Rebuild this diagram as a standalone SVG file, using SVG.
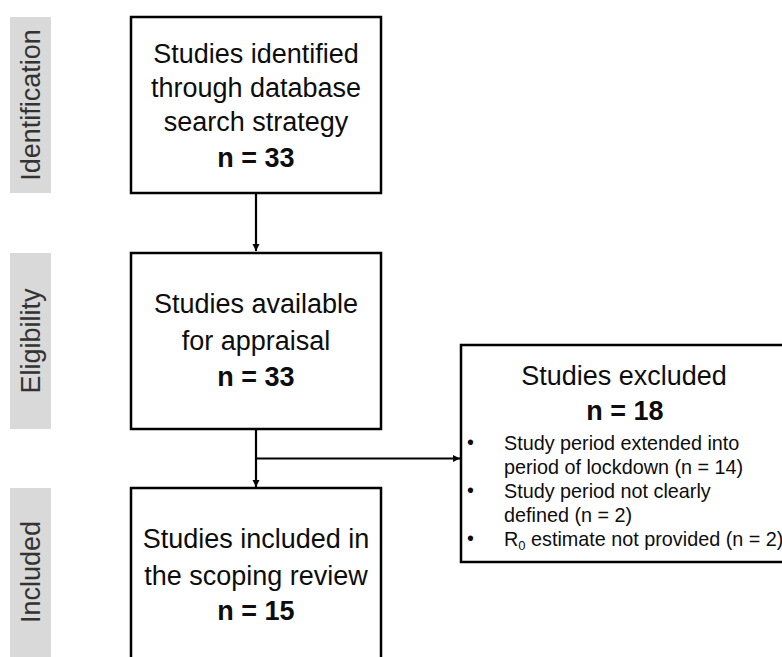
<svg xmlns="http://www.w3.org/2000/svg" width="782" height="657" viewBox="0 0 782 657">
<defs>
<style>
.bar{fill:#d9d9d9}
.lbl{font-family:"Liberation Sans",Arial,sans-serif;font-size:27px;fill:#333333;text-anchor:middle}
.box{fill:#ffffff;stroke:#000000;stroke-width:2.5}
.t{font-family:"Liberation Sans",Arial,sans-serif;font-size:27px;fill:#0d0d0d;text-anchor:middle}
.b{font-weight:bold}
.s{font-family:"Liberation Sans",Arial,sans-serif;font-size:19.8px;fill:#0d0d0d}
.c{fill:none;stroke:#000000;stroke-width:2.2}
</style>
<marker id="arr" viewBox="0 0 10 10" refX="10" refY="5" markerWidth="3.2" markerHeight="3.2" orient="auto" markerUnits="strokeWidth">
<path d="M0,0 L10,5 L0,10 Z" fill="#000000"/>
</marker>
</defs>
<rect width="782" height="657" fill="#ffffff"/>
<g id="phase-identification">
<rect class="bar" x="10" y="17" width="41" height="176"/>
<text class="lbl" transform="translate(40,105) rotate(-90)">Identification</text>
</g>
<g id="phase-eligibility">
<rect class="bar" x="10" y="253" width="41" height="176"/>
<text class="lbl" transform="translate(40,341) rotate(-90)">Eligibility</text>
</g>
<g id="phase-included">
<rect class="bar" x="10" y="488" width="41" height="200"/>
<text class="lbl" transform="translate(40,572) rotate(-90)">Included</text>
</g>
<g id="connectors">
<line class="c" x1="256" y1="193" x2="256" y2="251" marker-end="url(#arr)"/>
<line class="c" x1="256" y1="429" x2="256" y2="487" marker-end="url(#arr)"/>
<line class="c" x1="256" y1="458.5" x2="460" y2="458.5" marker-end="url(#arr)"/>
</g>
<g id="node-identified">
<rect class="box" x="131" y="17" width="250" height="176"/>
<text class="t" x="256" y="63">Studies identified</text>
<text class="t" x="256" y="97">through database</text>
<text class="t" x="256" y="131">search strategy</text>
<text class="t b" x="256" y="167">n = 33</text>
</g>
<g id="node-available">
<rect class="box" x="131" y="253" width="250" height="176"/>
<text class="t" x="256" y="313">Studies available</text>
<text class="t" x="256" y="350">for appraisal</text>
<text class="t b" x="256" y="386">n = 33</text>
</g>
<g id="node-included">
<rect class="box" x="131" y="488" width="250" height="200"/>
<text class="t" x="256" y="548">Studies included in</text>
<text class="t" x="256" y="585">the scoping review</text>
<text class="t b" x="256" y="620">n = 15</text>
</g>
<g id="node-excluded">
<rect class="box" x="461" y="345" width="340" height="217"/>
<text class="t" x="624" y="385">Studies excluded</text>
<text class="t b" x="625" y="420">n = 18</text>
<text class="s" x="467" y="449">•</text>
<text class="s" x="504" y="450">Study period extended into</text>
<text class="s" x="504" y="474">period of lockdown (n = 14)</text>
<text class="s" x="467" y="497">•</text>
<text class="s" x="504" y="498">Study period not clearly</text>
<text class="s" x="504" y="522">defined (n = 2)</text>
<text class="s" x="467" y="545">•</text>
<text class="s" x="504" y="546">R<tspan font-size="13px" dy="4">0</tspan><tspan dy="-4"> estimate not provided (n = 2)</tspan></text>
</g>
</svg>
